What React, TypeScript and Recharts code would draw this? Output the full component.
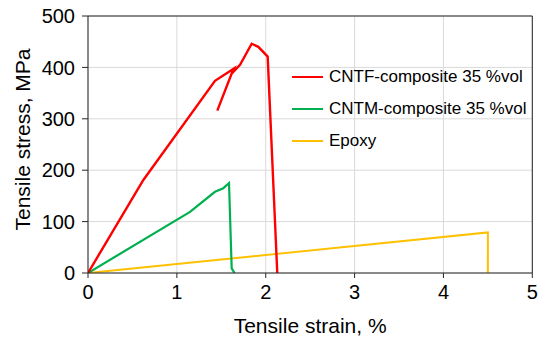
import React from 'react';
import { LineChart, Line, XAxis, YAxis, CartesianGrid, Legend, ReferenceLine } from 'recharts';

const xTicks = [0, 1, 2, 3, 4, 5];
const yTicks = [0, 100, 200, 300, 400, 500];

const cntfStrain = [0, 0.623, 1.429, 1.643, 1.617, 1.455, 1.617, 1.711, 1.842, 1.917, 2.022, 2.13];
const cntfStress = [0, 181, 374, 398, 388, 316, 388, 405, 446, 440, 421, 0];

const cntmStrain = [0, 1.148, 1.429, 1.523, 1.587, 1.617, 1.649];
const cntmStress = [0, 119, 158, 165, 175, 9, 0];

const epoxyStrain = [0, 4.5, 4.5];
const epoxyStress = [0, 79, 0];

const seriesNames = ['CNTF-composite 35 %vol', 'CNTM-composite 35 %vol', 'Epoxy'];
const seriesColors = ['#FF0000', '#00B050', '#FFC000'];

const zip = (xs: number[], ys: number[]) => xs.map((x, i) => ({ x, y: ys[i] }));

const cntfData = zip(cntfStrain, cntfStress);
const cntmData = zip(cntmStrain, cntmStress);
const epoxyData = zip(epoxyStrain, epoxyStress);

const FONT = '"Liberation Sans", Arial, sans-serif';
const AXIS = '#262626';

const LegendContent = () => (
  <div style={{ fontFamily: FONT, fontSize: 17, color: '#000', width: 240 }}>
    {seriesNames.map((n, i) => (
      <div key={n} style={{ display: 'flex', alignItems: 'center', height: 32 }}>
        <svg width={31} height={4} style={{ marginRight: 6 }}>
          <line x1={0} x2={31} y1={2} y2={2} stroke={seriesColors[i]} strokeWidth={2} />
        </svg>
        <span style={{ whiteSpace: 'nowrap' }}>{n}</span>
      </div>
    ))}
  </div>
);

const XTitle = (props: any) => {
  const vb = props.viewBox || {};
  return (
    <text x={vb.x + vb.width / 2} y={vb.y + 60} textAnchor="middle" fontFamily={FONT} fontSize={21} fill="#000">
      Tensile strain, %
    </text>
  );
};

const YTitle = (props: any) => {
  const vb = props.viewBox || {};
  const cx = 29.5;
  const cy = vb.y + vb.height / 2 - 5;
  return (
    <text x={cx} y={cy} textAnchor="middle" fontFamily={FONT} fontSize={21} fill="#000" transform={`rotate(-90, ${cx}, ${cy})`}>
      Tensile stress, MPa
    </text>
  );
};

export default function App() {
  return (
    <div style={{ position: 'absolute', left: 0, top: 0, width: 538, height: 339, background: '#fff' }}>
      <LineChart width={538} height={339} margin={{ top: 16, right: 5.7, left: 0, bottom: 0 }}>
        <CartesianGrid stroke="#d9d9d9" strokeWidth={1} />
        <XAxis
          type="number"
          dataKey="x"
          domain={[0, 5]}
          ticks={xTicks}
          allowDataOverflow
          height={66}
          stroke={AXIS}
          tickSize={5}
          tickMargin={7}
          tick={{ fill: '#000', fontSize: 20, fontFamily: FONT }}
          label={<XTitle />}
        />
        <YAxis
          type="number"
          dataKey="y"
          domain={[0, 500]}
          ticks={yTicks}
          allowDataOverflow
          width={88}
          stroke={AXIS}
          tickSize={6}
          tickMargin={7}
          tick={{ fill: '#000', fontSize: 20, fontFamily: FONT }}
          label={<YTitle />}
        />
        <ReferenceLine y={500} stroke={AXIS} strokeWidth={1} />
        <ReferenceLine x={5} stroke={AXIS} strokeWidth={1} />
        <Line data={epoxyData} dataKey="y" type="linear" stroke={seriesColors[2]} strokeWidth={2} dot={false} isAnimationActive={false} name={seriesNames[2]} />
        <Line data={cntmData} dataKey="y" type="linear" stroke={seriesColors[1]} strokeWidth={2.2} dot={false} isAnimationActive={false} name={seriesNames[1]} />
        <Line data={cntfData} dataKey="y" type="linear" stroke={seriesColors[0]} strokeWidth={2.4} dot={false} isAnimationActive={false} name={seriesNames[0]} />
        <Legend
          content={<LegendContent />}
          wrapperStyle={{ position: 'absolute', left: 292, top: 61, width: 0, height: 0, overflow: 'visible' }}
        />
      </LineChart>
    </div>
  );
}
